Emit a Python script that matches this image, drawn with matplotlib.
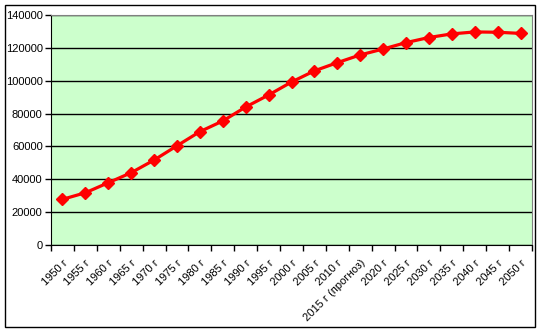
import matplotlib.pyplot as plt
import matplotlib.transforms as mtransforms
from matplotlib.patches import Rectangle

plt.rcParams['font.family'] = ['Liberation Sans', 'DejaVu Sans']

# categories and values
years = ["1950 г", "1955 г", "1960 г", "1965 г", "1970 г", "1975 г", "1980 г",
         "1985 г", "1990 г", "1995 г", "2000 г", "2005 г", "2010 г",
         "2015 г (прогноз)", "2020 г", "2025 г", "2030 г", "2035 г",
         "2040 г", "2045 г", "2050 г"]
population = [27800, 31800, 37900, 44000, 51700, 60400, 69000,
              75500, 84000, 91300, 99200, 106000, 111000,
              115700, 119300, 123200, 126300, 128500,
              129700, 129500, 128800]
yticks = [0, 20000, 40000, 60000, 80000, 100000, 120000, 140000]

W, H = 541, 332
fig = plt.figure(figsize=(W / 100, H / 100), dpi=100)
fig.patch.set_facecolor('white')

# plot area in pixels: x 51..532, y 15..245
ax = fig.add_axes([51 / W, 1 - 245 / H, (532 - 51) / W, (245 - 15) / H])
ax.set_facecolor('#CCFFCC')

x = list(range(len(years)))
ax.plot(x, population, color='#FF0000', lw=2.3, marker='D', ms=6.5,
        mfc='#FF0000', mec='#FF0000', zorder=3)

ax.set_xlim(-0.5, len(years) - 0.5)
ax.set_ylim(0, 140000)
ax.set_yticks(yticks)
ax.set_yticklabels([str(v) for v in yticks], fontsize=8)
ax.yaxis.grid(True, color='black', lw=1)
ax.set_axisbelow(True)

# category ticks sit between categories, labels at the centres
ax.set_xticks([i - 0.5 for i in range(len(years) + 1)])
ax.set_xticklabels([])
ax.set_xticks(x, minor=True)
labels = ax.set_xticklabels(years, minor=True, rotation=45, ha='right',
                            rotation_mode='anchor', fontsize=8)
shift = mtransforms.ScaledTranslation(-5 / 100, 0, fig.dpi_scale_trans)
for lab in labels:
    lab.set_transform(lab.get_transform() + shift)
ax.tick_params(axis='x', which='minor', length=0, pad=9)
ax.tick_params(axis='x', which='major', length=4, width=1, direction='out')
ax.tick_params(axis='y', length=4, width=1, direction='out', pad=2)

for side in ['top', 'right']:
    ax.spines[side].set_color('#808080')
for side in ['left', 'bottom']:
    ax.spines[side].set_color('black')

# chart border
fig.patches.append(Rectangle((5 / W, 1 - 327 / H), 530 / W, 322 / H,
                             transform=fig.transFigure, fill=False,
                             edgecolor='black', lw=1))

fig.savefig('out.png', dpi=100)
